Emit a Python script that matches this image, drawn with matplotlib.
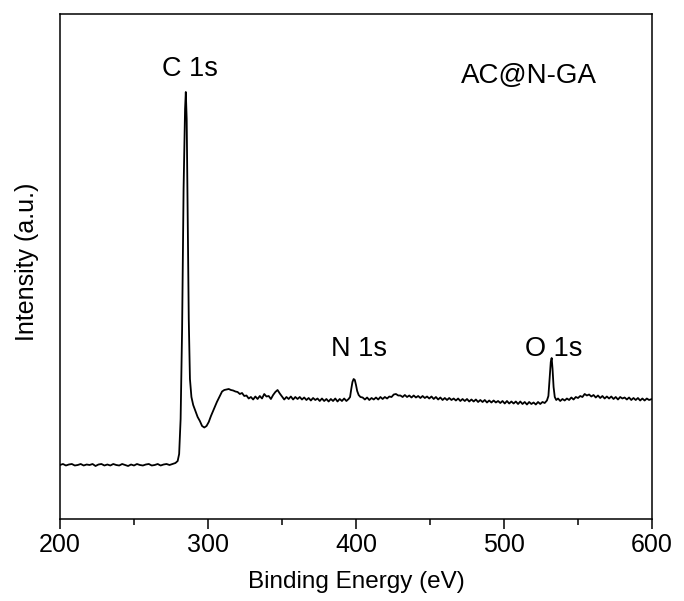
import matplotlib
matplotlib.use("Agg")
import matplotlib.pyplot as plt
from matplotlib.ticker import MultipleLocator

plt.rcParams['font.family'] = ['Liberation Sans', 'DejaVu Sans']

# XPS survey spectrum (binding energy in eV, intensity in arbitrary units)
energy = [
    200, 202, 204, 206, 208, 210, 212, 214, 216, 218, 220, 222, 224, 226, 228, 230,
    232, 234, 236, 238, 240, 242, 244, 246, 248, 250, 252, 254, 256, 258, 260, 262,
    264, 266, 268, 270, 272, 274, 276, 278, 279.5, 280.5, 281.5, 282.5, 283.5, 284.5,
    285.0, 285.6, 286.3, 287, 287.8, 288.8, 290, 291.5, 293, 294.5, 296, 297.5, 299,
    300.5, 302, 304, 306, 308, 309.5, 311, 312.5, 314, 315.5, 317, 318.5, 320, 321.5,
    323, 324.5, 326, 327.5, 329, 330.5, 332, 333.5, 335, 336.5, 338, 339.5, 341, 342.5,
    344, 345.5, 347, 348.5, 350, 351.5, 353, 354.5, 356, 357.5, 359, 360.5, 362, 363.5,
    365, 366.5, 368, 369.5, 371, 372.5, 374, 375.5, 377, 378.5, 380, 381.5, 383, 384.5,
    386, 387.5, 389, 390.5, 392, 393.5, 395, 396, 396.8, 397.6, 398.4, 399.2, 400,
    400.8, 401.8, 403, 404.5, 406, 407.5, 409, 410.5, 412, 413.5, 415, 416.5, 418,
    419.5, 421, 422.5, 424, 425.5, 427, 428.5, 430, 431.5, 433, 434.5, 436, 437.5, 439,
    440.5, 442, 443.5, 445, 446.5, 448, 449.5, 451, 452.5, 454, 455.5, 457, 458.5, 460,
    461.5, 463, 464.5, 466, 467.5, 469, 470.5, 472, 473.5, 475, 476.5, 478, 479.5, 481,
    482.5, 484, 485.5, 487, 488.5, 490, 491.5, 493, 494.5, 496, 497.5, 499, 500.5, 502,
    503.5, 505, 506.5, 508, 509.5, 511, 512.5, 514, 515.5, 517, 518.5, 520, 521.5, 523,
    524.5, 526, 527.5, 529, 530, 530.8, 531.6, 532.2, 532.8, 533.5, 534.3, 535.3, 536.5,
    538, 539.5, 541, 542.5, 544, 545.5, 547, 548.5, 550, 551.5, 553, 554.5, 556, 557.5,
    559, 560.5, 562, 563.5, 565, 566.5, 568, 569.5, 571, 572.5, 574, 575.5, 577, 578.5,
    580, 581.5, 583, 584.5, 586, 587.5, 589, 590.5, 592, 593.5, 595, 596.5, 598, 600,
]
intensity = [
    # 200 - 278
    54, 55, 53.5, 54.5, 55, 53.5, 54, 55, 53.5, 54.5, 54, 55, 53, 54.5, 55, 53.5,
    54.5, 53.5, 55, 54, 53.5, 55, 54, 53, 54.5, 53.5, 55, 54, 53.5, 54.5, 55, 53.5,
    54, 55, 53.5, 54.5, 55, 54, 55, 56,
    # 279.5 - 318.5 (C 1s peak and dip)
    58, 65, 100, 190, 330, 410,
    427, 400, 300, 200, 140, 122, 114, 108, 102, 98, 93, 91.5, 93,
    97, 103, 110, 117, 123, 127.5, 129, 129.5, 130, 129, 128.5, 127.5,
    # 320 - 395
    127, 125, 126, 123, 123.5, 120.5, 122, 119.5, 122.5, 120,
    123, 120.5, 125, 122.5, 123, 120, 124, 127, 129, 125.5,
    122.5, 119.5, 122, 120, 122.5, 119.5, 122, 120, 122, 119.5,
    121.5, 119, 121, 118.5, 121, 119, 120.5, 118, 120.5, 118,
    120, 117.5, 120, 118, 120.5, 117.5, 120, 118, 120.5, 118, 120,
    # 396 - 403 (N 1s)
    122, 130, 137, 140, 139, 134, 128, 124, 122,
    # 404.5 - 529
    121.5, 119.5, 121.5, 119, 121, 119.5, 121.5, 119.5, 122, 120,
    122, 120.5, 122.5, 122, 124.5, 125, 123.5, 123.5, 122, 124,
    122, 123.5, 121.5, 123.5, 121.5, 123, 121, 123, 121, 122.5,
    120.5, 122.5, 120, 122, 119.5, 121.5, 119, 121, 119, 121,
    119, 120.5, 118.5, 120.5, 118, 120, 118, 120, 117.5, 119.5,
    117.5, 119.5, 117, 119, 117, 119, 116.5, 118.5, 116.5, 118.5,
    116.5, 118, 116, 118, 115.5, 118, 115.5, 117.5, 115.5, 117.5,
    115, 117.5, 115, 117, 114.5, 117, 115, 116.5, 114.5, 117,
    115, 117, 116, 118.5,
    # 530 - 535.3 (O 1s)
    123, 140, 157, 161, 150, 132, 122, 119,
    # 536.5 - 600
    120.5, 118, 120, 118.5, 120.5, 119, 121.5, 119.5, 122, 121,
    123, 122, 125, 123.5, 124.5, 122.5, 124, 121.5, 123.5, 121,
    123, 120.5, 122.5, 120.5, 122.5, 120, 122, 119.5, 122, 120.5,
    121.5, 119.5, 121.5, 119, 121, 119, 121, 118.5, 120.5, 118.5,
    120.5, 119, 120,
]

peak_labels = ["C 1s", "N 1s", "O 1s"]
peak_label_x = [287.8, 402, 533.3]
peak_label_y = [443, 163, 163]
sample_name = "AC@N-GA"
x_ticks = [200, 300, 400, 500, 600]

fig = plt.figure(figsize=(6.84, 6.01), dpi=100)
ax = fig.add_axes([60/684, 82/601, 592/684, 505/601])

ax.plot(energy, intensity, color='black', linewidth=1.3)

ax.set_xlim(200, 600)
ax.set_ylim(0, 505)
ax.set_xticks(x_ticks)
ax.xaxis.set_minor_locator(MultipleLocator(50))
ax.set_yticks([])

for s in ax.spines.values():
    s.set_linewidth(1.1)

ax.tick_params(axis='x', which='major', direction='out', length=7.2, width=1.1,
               labelsize=18, pad=3)
ax.tick_params(axis='x', which='minor', direction='out', length=4.3, width=1.1)

ax.set_xlabel("Binding Energy (eV)", fontsize=17.5)
ax.xaxis.set_label_coords(0.5, -0.102)
ax.set_ylabel("Intensity (a.u.)", fontsize=18)
ax.yaxis.set_label_coords(-0.036, 0.51)

for lbl, lx, ly in zip(peak_labels, peak_label_x, peak_label_y):
    ax.text(lx, ly, lbl, ha='center', va='baseline', fontsize=19.5)

ax.text(471, 436, sample_name, ha='left', va='baseline', fontsize=20)

fig.savefig("out.png", dpi=100)
